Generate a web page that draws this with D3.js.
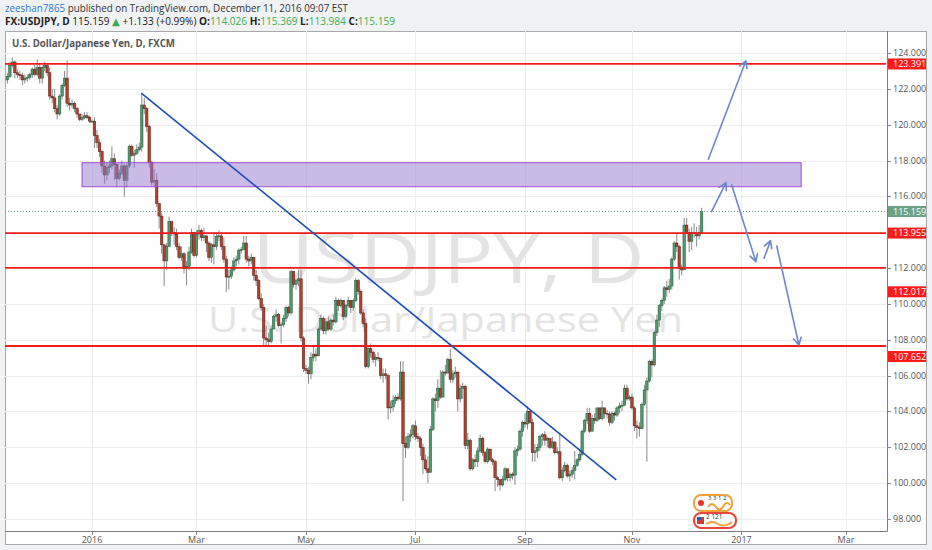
<!DOCTYPE html>
<html>
<head>
<meta charset="utf-8">
<script src="https://d3js.org/d3.v7.min.js"></script>
<style>
  body { margin: 0; background: #f0f2f4; font-family: "Open Sans", "DejaVu Sans", sans-serif; }
</style>
</head>
<body>
<svg id="chart" width="932" height="550"></svg>
<script>
// daily USDJPY bars, Nov 16 2015 .. Dec 9 2016 (weekdays), open = previous close
const firstDay = new Date(2015, 10, 16);
const firstOpen = 122.5;
const closes = [
  122.7, 123.3, 123.5, 122.9, 122.8, 122.75, 122.5, 122.6, 122.65, 122.8, 123.1,
  122.8, 123.2, 122.6, 123.2, 123.3, 122.9, 121.6, 121.5, 120.9, 120.6, 121.6, 122.2, 122.6, 121.2, 121.1, 121.2, 120.9, 120.6, 120.3, 120.4, 120.5, 120.4, 120.2,
  120.2, 119.4, 119.0, 118.5, 117.7, 117.2, 117.6, 117.7, 118.1, 117.8, 117.0, 117.3, 117.7, 116.9, 117.7, 118.8, 118.3, 118.4, 118.6, 118.75, 121.1,
  120.9, 119.9, 117.9, 116.8, 116.9, 115.6, 114.9, 113.3, 112.4, 113.2, 114.6, 114.0, 113.9, 113.2, 112.6, 112.8, 112.0, 112.1, 112.9, 114.0, 112.7,
  113.9, 114.1, 113.7, 113.8, 113.4, 112.6, 113.3, 113.2, 113.75, 113.8, 113.2, 112.5, 111.5, 111.55, 111.9, 112.4, 112.5, 113.0, 113.05, 113.4, 112.5, 112.4, 112.6,
  111.6, 111.3, 110.3, 109.8, 108.1, 108.0, 107.9, 108.6, 109.3, 109.4, 108.8, 108.85, 109.2, 109.8, 109.5, 111.8, 111.1, 111.3, 111.4, 108.1, 106.4,
  106.3, 106.1, 107.0, 107.2, 107.1, 108.6, 109.2, 108.5, 109.0, 108.6, 109.1, 109.0, 110.2, 109.9, 110.2, 109.3, 109.9, 110.2, 109.8, 110.2, 111.3, 110.7,
  109.5, 108.9, 106.5, 107.5, 107.3, 106.9, 107.0, 106.95, 106.0, 106.1, 106.0, 104.2, 104.25, 104.6, 104.8, 104.7, 106.2, 102.2, 102.0, 102.6, 102.7, 103.2,
  102.6, 102.5, 102.0, 101.3, 100.8, 100.6, 103.0, 104.7, 104.6, 105.3, 104.8, 106.2, 106.15, 106.9, 105.8, 106.1, 106.2, 104.7, 105.3, 105.4, 102.1,
  102.4, 100.8, 101.3, 101.2, 101.8, 102.5, 101.7, 101.2, 101.9, 101.3, 101.2, 100.3, 100.2, 99.9, 100.2, 100.8, 100.3, 100.5, 100.45, 101.8, 101.9, 102.9, 103.4,
  103.3, 104.0, 103.4, 101.7, 101.8, 102.0, 102.6, 102.7, 102.4, 102.5, 102.0, 102.3, 101.7, 101.75, 100.3, 100.7, 101.0, 100.4, 100.5, 100.7, 101.0, 101.3,
  101.6, 102.9, 103.5, 103.9, 102.9, 103.6, 103.5, 104.2, 103.6, 104.2, 103.9, 103.85, 103.4, 103.9, 103.8, 104.2, 104.3, 104.35, 105.3, 104.7, 104.8,
  104.2, 103.2, 103.1, 103.05, 104.4, 105.2, 105.7, 106.8, 106.6, 108.4, 109.1, 109.9, 110.2, 110.9, 110.8, 111.0, 112.5, 113.4, 113.2, 112.0, 111.9, 114.4,
  114.0, 113.5, 114.0, 113.95, 113.8, 114.0, 115.159
];
const highs = [
  122.9, 123.5, 123.76, 123.6, 123.1, 123.0, 122.9, 122.8, 122.8, 122.9, 123.2,
  123.35, 123.65, 123.4, 123.3, 123.5, 123.4, 123.2, 122.0, 122.0, 121.1, 121.7, 122.3, 123.0, 123.6, 121.5, 121.4, 121.3, 121.0, 120.6, 120.6, 120.7, 120.7, 120.5,
  120.3, 120.4, 119.7, 119.2, 118.6, 118.0, 117.9, 118.0, 118.8, 118.4, 117.8, 117.5, 118.0, 117.8, 117.8, 118.9, 118.9, 118.6, 118.9, 119.0, 121.7,
  121.5, 121.0, 120.0, 118.0, 117.5, 117.3, 115.6, 115.1, 113.3, 113.4, 114.87, 114.6, 114.3, 114.2, 113.4, 113.2, 112.9, 112.4, 113.2, 114.2, 114.0,
  114.1, 114.4, 114.2, 114.25, 113.8, 113.5, 113.4, 114.0, 114.0, 114.1, 113.9, 113.7, 112.7, 111.9, 112.1, 112.6, 112.7, 113.1, 113.2, 113.8, 113.8, 112.7, 112.8,
  112.6, 111.9, 111.4, 110.6, 110.0, 108.8, 108.4, 108.8, 109.4, 109.7, 109.5, 109.0, 109.4, 109.9, 109.9, 111.9, 111.8, 111.4, 111.9, 111.88, 108.2,
  106.6, 106.5, 107.3, 107.6, 107.5, 108.7, 109.4, 109.3, 109.2, 109.3, 109.2, 109.4, 110.4, 110.3, 110.3, 110.2, 110.0, 110.4, 110.2, 110.3, 111.45, 111.4,
  110.8, 109.7, 109.2, 107.7, 107.8, 107.4, 107.2, 107.3, 107.0, 106.4, 106.4, 106.1, 104.6, 104.9, 104.9, 105.0, 106.8, 106.8, 102.6, 102.8, 103.0, 103.3,
  103.5, 102.8, 102.6, 102.2, 101.6, 101.5, 103.2, 104.8, 105.0, 105.8, 106.3, 106.3, 106.6, 107.0, 107.49, 106.3, 106.5, 106.2, 105.5, 105.6, 105.5,
  102.8, 102.5, 101.4, 101.6, 102.0, 102.7, 102.6, 101.8, 102.0, 101.9, 101.4, 101.3, 100.4, 100.2, 100.4, 100.9, 100.8, 100.6, 100.6, 102.0, 102.1, 103.0, 103.5,
  103.9, 104.3, 104.1, 103.6, 102.2, 102.2, 102.7, 102.8, 102.9, 102.6, 102.5, 102.6, 102.3, 102.0, 102.8, 100.9, 101.2, 101.1, 100.7, 100.9, 101.8, 101.4,
  101.9, 103.0, 103.6, 104.2, 104.2, 103.8, 103.9, 104.2, 104.2, 104.6, 104.2, 104.1, 104.0, 104.0, 104.0, 104.3, 104.5, 104.6, 105.5, 105.5, 104.9,
  105.0, 104.3, 103.5, 103.4, 104.5, 105.5, 105.9, 106.9, 106.9, 108.5, 109.4, 110.0, 110.3, 111.0, 111.3, 111.4, 112.6, 113.5, 113.9, 113.3, 112.2, 114.8,
  114.8, 114.2, 114.3, 114.5, 114.3, 114.4, 115.369
];
const lows = [
  122.3, 122.6, 123.2, 122.6, 122.6, 122.5, 122.2, 122.3, 122.4, 122.5, 122.6,
  122.7, 122.7, 122.3, 122.3, 123.0, 122.7, 121.4, 121.2, 120.7, 120.3, 120.5, 121.4, 122.1, 121.0, 120.8, 120.9, 120.7, 120.4, 120.2, 120.2, 120.3, 120.3, 120.1,
  120.1, 118.7, 118.7, 118.2, 117.3, 116.7, 116.9, 117.3, 117.5, 116.9, 116.5, 116.9, 117.2, 115.98, 116.5, 117.6, 118.2, 117.6, 118.3, 118.5, 118.5,
  120.6, 119.6, 117.6, 116.6, 116.5, 115.4, 114.2, 112.8, 110.98, 111.9, 113.2, 113.8, 113.3, 113.0, 112.5, 112.4, 111.7, 111.05, 111.9, 112.8, 112.6,
  112.6, 113.6, 113.5, 113.5, 112.9, 112.4, 112.3, 112.2, 113.0, 113.5, 113.0, 112.3, 110.67, 110.8, 111.4, 111.8, 112.1, 112.2, 112.8, 113.0, 112.3, 112.1, 112.2,
  111.3, 111.0, 110.2, 109.6, 107.67, 107.7, 107.6, 107.8, 108.6, 109.0, 108.7, 107.8, 108.7, 109.0, 109.3, 109.4, 110.9, 110.8, 111.0, 107.9, 106.2,
  106.1, 105.55, 105.8, 106.8, 106.8, 107.1, 108.5, 108.3, 108.3, 108.5, 108.5, 108.8, 108.9, 109.6, 109.8, 109.1, 109.2, 109.8, 109.5, 109.6, 110.1, 110.5,
  109.4, 108.7, 106.4, 106.4, 107.0, 106.7, 106.5, 106.8, 105.8, 105.6, 105.8, 103.55, 103.9, 104.0, 104.4, 104.6, 104.6, 99.0, 101.4, 101.9, 102.3, 102.5,
  102.4, 102.3, 101.5, 100.5, 100.7, 99.99, 100.6, 102.9, 104.0, 104.2, 104.7, 104.8, 106.0, 106.1, 105.6, 105.6, 105.9, 104.0, 104.5, 104.7, 101.9,
  101.9, 100.7, 100.7, 100.9, 100.9, 101.7, 101.5, 101.1, 101.1, 101.2, 101.0, 99.55, 99.8, 99.6, 99.8, 100.1, 100.1, 100.1, 100.2, 99.9, 101.5, 101.8, 102.6,
  103.1, 103.0, 103.3, 101.2, 101.2, 101.4, 101.8, 102.1, 102.1, 102.0, 101.9, 101.9, 101.6, 101.6, 100.2, 100.1, 100.6, 100.3, 100.1, 100.3, 100.2, 100.9,
  101.2, 101.5, 102.8, 103.3, 102.8, 102.9, 103.3, 103.4, 103.5, 103.5, 103.6, 103.6, 103.2, 103.3, 103.5, 103.7, 103.9, 104.0, 104.3, 104.6, 104.6,
  104.1, 102.9, 102.5, 102.6, 103.0, 104.3, 101.2, 105.6, 105.9, 106.5, 108.2, 108.7, 109.6, 110.0, 110.4, 110.6, 110.8, 112.4, 112.9, 111.36, 111.6, 111.9,
  113.9, 112.9, 113.0, 113.7, 113.2, 113.6, 113.984
];

const timeLabels = ["2016", "Mar", "May", "Jul", "Sep", "Nov", "2017", "Mar"];
const timeLabelDates = ["2016-01-01", "2016-03-01", "2016-05-01", "2016-07-01", "2016-09-01", "2016-11-01", "2017-01-01", "2017-03-01"];

const levels = [123.391, 113.955, 112.017, 107.652];
const lastPrice = 115.159;

// drawings (bar index from Jan 1 2016, price)
const zone = { from: -4, to: 285, top: 117.88, bottom: 116.54 };
const trendLine = [[19.8, 121.77], [210.7, 100.18]];
const arrows = [
  [[247.7, 118.07], [262.8, 123.57]],
  [[249.0, 115.15], [254.8, 116.77]],
  [[257.1, 116.64], [266.8, 112.36]],
  [[270.1, 112.55], [272.7, 113.53]],
  [[275.2, 113.23], [284.1, 107.71]]
];

const plot = { left: 5, right: 886, top: 31, bottom: 531 };
const svg = d3.select("#chart");

const isWeekday = d => d.getDay() !== 0 && d.getDay() !== 6;
function barIndex(date) {
  const base = new Date(2016, 0, 1);
  if (date >= base) return d3.timeDay.range(base, date).filter(isWeekday).length;
  return -d3.timeDay.range(date, base).filter(isWeekday).length;
}

// build bars
const bars = [];
let day = new Date(firstDay);
closes.forEach((c, i) => {
  while (!isWeekday(day)) day = d3.timeDay.offset(day, 1);
  bars.push({
    i: barIndex(day),
    o: i === 0 ? firstOpen : closes[i - 1],
    h: highs[i], l: lows[i], c: c
  });
  day = d3.timeDay.offset(day, 1);
});

const x = d3.scaleLinear().domain([-34.96, 319.1]).range([plot.left, plot.right]);
const y = d3.scaleLinear().domain([97.33, 125.23]).range([plot.bottom, plot.top]);
const parse = d3.timeParse("%Y-%m-%d");

// panel
svg.append("rect")
  .attr("x", 5.5).attr("y", 31.5)
  .attr("width", 921).attr("height", 513)
  .attr("fill", "#fff").attr("stroke", "#a9a9a9");

svg.append("defs").append("clipPath").attr("id", "clip")
  .append("rect")
  .attr("x", plot.left).attr("y", plot.top)
  .attr("width", plot.right - plot.left).attr("height", plot.bottom - plot.top);

const g = svg.append("g").attr("clip-path", "url(#clip)");

// grid
const priceTicks = y.ticks(14);
g.selectAll(".hgrid").data(priceTicks).enter().append("line")
  .attr("x1", plot.left).attr("x2", plot.right)
  .attr("y1", d => Math.round(y(d)) + 0.5).attr("y2", d => Math.round(y(d)) + 0.5)
  .attr("stroke", "#eeeeee");

const timeTicks = timeLabelDates.map((d, k) => ({ label: timeLabels[k], i: barIndex(parse(d)) }));
g.selectAll(".vgrid").data(timeTicks).enter().append("line")
  .attr("x1", d => Math.round(x(d.i)) + 0.5).attr("x2", d => Math.round(x(d.i)) + 0.5)
  .attr("y1", plot.top).attr("y2", plot.bottom)
  .attr("stroke", "#eeeeee");

// watermark
const cx = (plot.left + plot.right) / 2;
g.append("text")
  .attr("x", cx + 3).attr("y", 283)
  .attr("text-anchor", "middle")
  .attr("font-size", 70)
  .attr("textLength", 392).attr("lengthAdjust", "spacingAndGlyphs")
  .attr("fill", "#e4e4e4")
  .text("USDJPY, D");
g.append("text")
  .attr("x", cx).attr("y", 332)
  .attr("text-anchor", "middle")
  .attr("font-size", 35)
  .attr("textLength", 475).attr("lengthAdjust", "spacingAndGlyphs")
  .attr("fill", "#e4e4e4")
  .text("U.S. Dollar/Japanese Yen");

// title
svg.append("text")
  .attr("x", 12).attr("y", 47)
  .attr("font-size", 10).attr("font-weight", "bold")
  .attr("fill", "#555")
  .attr("textLength", 163).attr("lengthAdjust", "spacingAndGlyphs")
  .text("U.S. Dollar/Japanese Yen, D, FXCM");

// candles
const candle = g.selectAll(".bar").data(bars).enter().append("g");
candle.append("line")
  .attr("x1", d => x(d.i)).attr("x2", d => x(d.i))
  .attr("y1", d => y(d.h)).attr("y2", d => y(d.l))
  .attr("stroke", "#8a8a8a").attr("stroke-width", 1);
candle.append("rect")
  .attr("x", d => x(d.i) - 1.25)
  .attr("width", 2.5)
  .attr("y", d => y(Math.max(d.o, d.c)))
  .attr("height", d => Math.max(1, Math.abs(y(d.o) - y(d.c))))
  .attr("fill", d => d.c >= d.o ? "#4e9a6c" : "#b0402f")
  .attr("stroke", d => d.c >= d.o ? "#225437" : "#5b1a13")
  .attr("stroke-width", 0.5);

// zone
g.append("rect")
  .attr("x", x(zone.from)).attr("y", y(zone.top))
  .attr("width", x(zone.to) - x(zone.from))
  .attr("height", y(zone.bottom) - y(zone.top))
  .attr("fill", "#9575cd").attr("fill-opacity", 0.5)
  .attr("stroke", "#a24bd6").attr("stroke-width", 1);

// last price dotted line
g.append("line")
  .attr("x1", plot.left).attr("x2", plot.right)
  .attr("y1", y(lastPrice)).attr("y2", y(lastPrice))
  .attr("stroke", "#6f9f88").attr("stroke-dasharray", "1,2");

// horizontal levels
g.selectAll(".level").data(levels).enter().append("line")
  .attr("x1", plot.left).attr("x2", plot.right)
  .attr("y1", d => y(d)).attr("y2", d => y(d))
  .attr("stroke", "#f01c1c").attr("stroke-width", 1.8);

// trend line
g.append("line")
  .attr("x1", x(trendLine[0][0])).attr("y1", y(trendLine[0][1]))
  .attr("x2", x(trendLine[1][0])).attr("y2", y(trendLine[1][1]))
  .attr("stroke", "#1c4dbd").attr("stroke-width", 1.6);

// arrows
arrows.forEach(a => {
  const x1 = x(a[0][0]), y1 = y(a[0][1]), x2 = x(a[1][0]), y2 = y(a[1][1]);
  const ang = Math.atan2(y2 - y1, x2 - x1);
  const len = 8, spread = 0.5;
  const path = d3.path();
  path.moveTo(x1, y1); path.lineTo(x2, y2);
  path.moveTo(x2 - len * Math.cos(ang - spread), y2 - len * Math.sin(ang - spread));
  path.lineTo(x2, y2);
  path.lineTo(x2 - len * Math.cos(ang + spread), y2 - len * Math.sin(ang + spread));
  g.append("path").attr("d", path.toString())
    .attr("fill", "none").attr("stroke", "#6d88c9").attr("stroke-width", 1.6)
    .attr("stroke-linecap", "round").attr("stroke-linejoin", "round");
});

// logo stamp near bottom
const logo = svg.append("g").attr("transform", "translate(694,494)");
logo.append("rect").attr("x", 0).attr("y", 1).attr("width", 38).attr("height", 16).attr("rx", 7)
  .attr("fill", "#fff").attr("stroke", "#f2a23a").attr("stroke-width", 2);
logo.append("circle").attr("cx", 7).attr("cy", 9).attr("r", 3).attr("fill", "#e8332a");
logo.append("path").attr("d", "M14,13 q4,-6 8,0 q4,6 8,-2 q3,-4 6,0")
  .attr("fill", "none").attr("stroke", "#f2a23a").attr("stroke-width", 2);
logo.append("text").attr("x", 14).attr("y", 6).attr("font-size", 6).attr("fill", "#333").text("3 3 1 2");
logo.append("rect").attr("x", 0).attr("y", 19).attr("width", 42).attr("height", 15).attr("rx", 7)
  .attr("fill", "#fff").attr("stroke", "#e8473a").attr("stroke-width", 2);
logo.append("rect").attr("x", 3).attr("y", 23).attr("width", 7).attr("height", 7).attr("fill", "#d23b3b");
logo.append("rect").attr("x", 3).attr("y", 23).attr("width", 4).attr("height", 3).attr("fill", "#3a5aa8");
logo.append("path").attr("d", "M12,30 q6,-4 12,0 q6,4 14,-2")
  .attr("fill", "none").attr("stroke", "#f2a23a").attr("stroke-width", 2);
logo.append("text").attr("x", 12).attr("y", 25).attr("font-size", 6.5).attr("fill", "#333").text("2 121");

// axes frame
svg.append("line").attr("x1", plot.right + 1.5).attr("x2", plot.right + 1.5)
  .attr("y1", plot.top).attr("y2", plot.bottom + 0.5).attr("stroke", "#7d7d7d");
svg.append("line").attr("x1", plot.left).attr("x2", plot.right + 1.5)
  .attr("y1", plot.bottom + 0.5).attr("y2", plot.bottom + 0.5).attr("stroke", "#7d7d7d");

// price axis
const fmt = d3.format(".3f");
const pAxis = svg.append("g");
pAxis.selectAll("line").data(priceTicks).enter().append("line")
  .attr("x1", plot.right + 1.5).attr("x2", plot.right + 5)
  .attr("y1", d => Math.round(y(d)) + 0.5).attr("y2", d => Math.round(y(d)) + 0.5)
  .attr("stroke", "#888");
pAxis.selectAll("text").data(priceTicks).enter().append("text")
  .attr("x", 893).attr("y", d => y(d) + 3)
  .attr("font-size", 9).attr("fill", "#555")
  .text(d => fmt(d));

// time axis
const tAxis = svg.append("g");
tAxis.selectAll("line").data(timeTicks).enter().append("line")
  .attr("x1", d => Math.round(x(d.i)) + 0.5).attr("x2", d => Math.round(x(d.i)) + 0.5)
  .attr("y1", plot.bottom + 0.5).attr("y2", plot.bottom + 4)
  .attr("stroke", "#888");
tAxis.selectAll("text").data(timeTicks).enter().append("text")
  .attr("x", d => x(d.i)).attr("y", 543)
  .attr("text-anchor", "middle")
  .attr("font-size", 9).attr("fill", "#555")
  .text(d => d.label);

// price tags (two of them sit pushed down below their line, clear of axis labels)
const tagShift = { 112.017: 24, 107.652: 10.5 };
function tag(price, color) {
  const cy = y(price) + (tagShift[price] || 0);
  svg.append("rect")
    .attr("x", plot.right + 2).attr("y", cy - 5.5)
    .attr("width", 38).attr("height", 11)
    .attr("fill", color);
  svg.append("text")
    .attr("x", 893).attr("y", cy + 3.2)
    .attr("font-size", 9).attr("fill", "#fff")
    .text(fmt(price));
}
levels.forEach(v => tag(v, "#ff1a1a"));
tag(lastPrice, "#6aa388");

// header
const h1 = svg.append("text").attr("x", 5).attr("y", 12).attr("font-size", 10)
  .attr("textLength", 343).attr("lengthAdjust", "spacingAndGlyphs");
h1.append("tspan").attr("fill", "#2a7bd0").text("zeeshan7865");
h1.append("tspan").attr("fill", "#333").text(" published on TradingView.com, December 11, 2016 09:07 EST");

const h2 = svg.append("text").attr("x", 5).attr("y", 24.5).attr("font-size", 10)
  .attr("textLength", 390).attr("lengthAdjust", "spacingAndGlyphs").attr("fill", "#222");
const green = "#3bb04f";
[
  ["FX:USDJPY, D", "#222", "bold"],
  [" 115.159 ", "#222", "normal"],
  ["▲", green, "normal"],
  [" +1.133 (+0.99%) ", "#222", "normal"],
  ["O:", "#222", "bold"], ["114.026", green, "normal"],
  [" H:", "#222", "bold"], ["115.369", green, "normal"],
  [" L:", "#222", "bold"], ["113.984", green, "normal"],
  [" C:", "#222", "bold"], ["115.159", green, "normal"]
].forEach(p => h2.append("tspan").attr("fill", p[1]).attr("font-weight", p[2]).text(p[0]));
</script>
</body>
</html>
